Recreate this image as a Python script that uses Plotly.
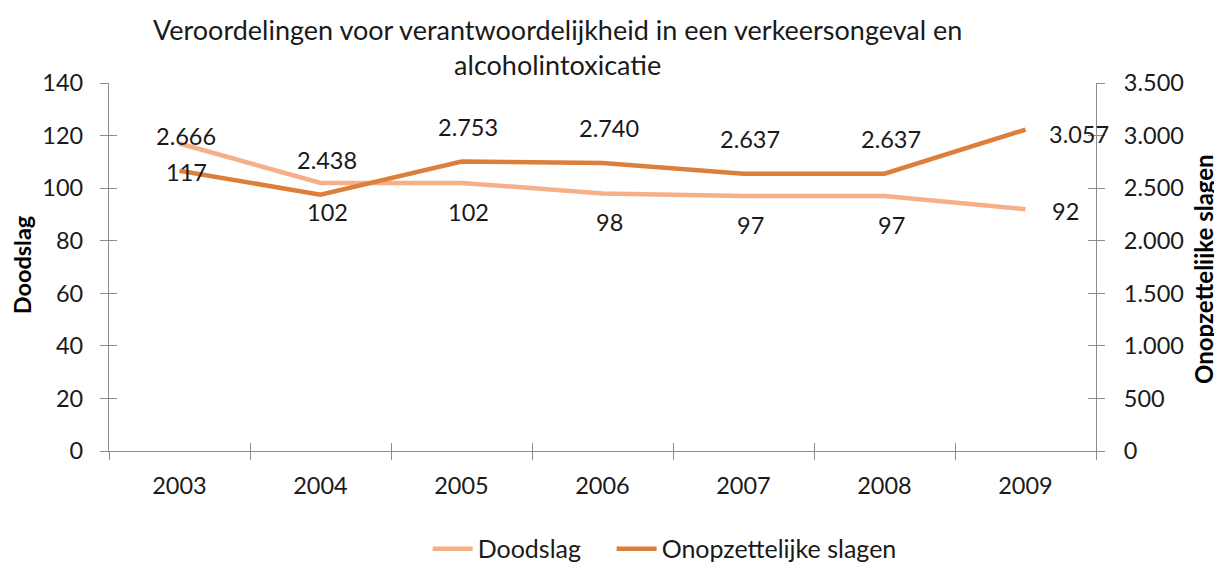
import plotly.graph_objects as go

years = ["2003", "2004", "2005", "2006", "2007", "2008", "2009"]
doodslag = [117, 102, 102, 98, 97, 97, 92]
onopzettelijk = [2666, 2438, 2753, 2740, 2637, 2637, 3057]
left_ticks = [0, 20, 40, 60, 80, 100, 120, 140]
right_ticks = [0, 500, 1000, 1500, 2000, 2500, 3000, 3500]
right_tick_text = ["0", "500", "1.000", "1.500", "2.000", "2.500", "3.000", "3.500"]

def nl(v):
    return f"{v:,}".replace(",", ".")

C_LIGHT = "#F7AF88"
C_DARK = "#DC7F3A"
AX = "#8C8C8C"
FONT = "Lato"
TXT = "#1a1a1a"

# page body has an 8px default margin: figure is sized/offset to compensate
W, H = 1214, 555
ML, MR, MT, MB = 101, 126, 75, 112

fig = go.Figure()
fig.add_trace(go.Scatter(x=years, y=doodslag, name="Doodslag&nbsp;&nbsp;&nbsp;&nbsp;", mode="lines",
                         line=dict(color=C_LIGHT, width=4.5), yaxis="y", xaxis="x"))
fig.add_trace(go.Scatter(x=years, y=onopzettelijk, name="Onopzettelijke slagen", mode="lines",
                         line=dict(color=C_DARK, width=4.5), yaxis="y2", xaxis="x"))

ann = []
n = len(years)
lab_font = dict(family=FONT, size=23.5, color=TXT)
for i, v in enumerate(doodslag):
    last = i == n - 1
    ann.append(dict(x=i, y=v, xref="x", yref="y", text=str(v), showarrow=False,
                    xanchor="left" if last else "center", yanchor="middle",
                    xshift=24 if last else 7, yshift=-2 if last else -29,
                    font=lab_font))
for i, v in enumerate(onopzettelijk):
    last = i == n - 1
    ann.append(dict(x=i, y=v, xref="x", yref="y2", text=nl(v), showarrow=False,
                    xanchor="left" if last else "center", yanchor="middle",
                    xshift=21 if last else 6, yshift=-4 if last else 35,
                    font=lab_font))

ann.append(dict(text="<b>Doodslag</b>", xref="paper", yref="paper", x=-0.088, y=0.505,
                textangle=-90, showarrow=False, xanchor="center", yanchor="middle",
                font=dict(family=FONT, size=23.5, color="black")))
ann.append(dict(text="<b>Onopzettelijke slagen</b>", xref="paper", yref="paper", x=1.1095, y=0.495,
                textangle=-90, showarrow=False, xanchor="center", yanchor="middle",
                font=dict(family=FONT, size=24, color="black")))
ann.append(dict(text="Veroordelingen voor verantwoordelijkheid in een verkeersongeval en<br>alcoholintoxicatie",
                xref="paper", yref="paper", x=0.454, y=1 + (MT - 3) / 368, xanchor="center",
                yanchor="top", showarrow=False, align="center",
                font=dict(family=FONT, size=27, color=TXT)))

tickfont = dict(family=FONT, size=23.5, color=TXT)
common_x = dict(type="category", range=[-0.5, n - 0.5], tickson="boundaries",
                showgrid=False, zeroline=False, linecolor=AX, linewidth=1.3,
                tickcolor=AX, ticklen=8, tickwidth=1.3, fixedrange=True)

fig.update_layout(
    width=W, height=H,
    margin=dict(l=ML, r=MR, t=MT, b=MB, autoexpand=False),
    paper_bgcolor="white", plot_bgcolor="white",
    xaxis=dict(**common_x, ticks="outside", showline=True, tickfont=tickfont,
               ticklabelstandoff=14),
    xaxis2=dict(**common_x, overlaying="x", matches="x", ticks="inside", showline=False,
                showticklabels=False, anchor="y"),
    yaxis=dict(range=[0, 140], tickvals=left_ticks, showgrid=False, zeroline=False,
               showline=True, linecolor=AX, linewidth=1.3, ticks="outside", ticklen=8,
               tickcolor=AX, tickwidth=1.3, tickfont=tickfont, ticklabelstandoff=12,
               fixedrange=True),
    yaxis3=dict(range=[0, 140], tickvals=left_ticks, overlaying="y", showgrid=False,
                zeroline=False, showline=False, ticks="inside", ticklen=8, tickcolor=AX,
                tickwidth=1.3, showticklabels=False, fixedrange=True),
    yaxis2=dict(range=[0, 3500], tickvals=right_ticks, ticktext=right_tick_text,
                overlaying="y", side="right", showgrid=False, zeroline=False,
                showline=True, linecolor=AX, linewidth=1.3, ticks="outside", ticklen=8,
                tickcolor=AX, tickwidth=1.3, tickfont=tickfont, ticklabelstandoff=14,
                fixedrange=True),
    yaxis4=dict(range=[0, 3500], tickvals=right_ticks, overlaying="y", side="right",
                showgrid=False, zeroline=False, showline=False, ticks="inside", ticklen=8,
                tickcolor=AX, tickwidth=1.3, showticklabels=False, fixedrange=True),
    legend=dict(orientation="h", x=0.563, xanchor="center", y=-0.266, yanchor="middle",
                font=dict(family=FONT, size=25, color=TXT), itemwidth=40,
                tracegroupgap=0, bgcolor="rgba(0,0,0,0)"),
    annotations=ann,
    showlegend=True,
)

# invisible helper traces so the cross-tick overlay axes are rendered
fig.add_trace(go.Scatter(x=years, y=doodslag, xaxis="x2", yaxis="y3", mode="lines",
                         line=dict(width=0), hoverinfo="skip", showlegend=False, opacity=0))
fig.add_trace(go.Scatter(x=years, y=onopzettelijk, xaxis="x2", yaxis="y4", mode="lines",
                         line=dict(width=0), hoverinfo="skip", showlegend=False, opacity=0))

fig.write_html("out.html")
